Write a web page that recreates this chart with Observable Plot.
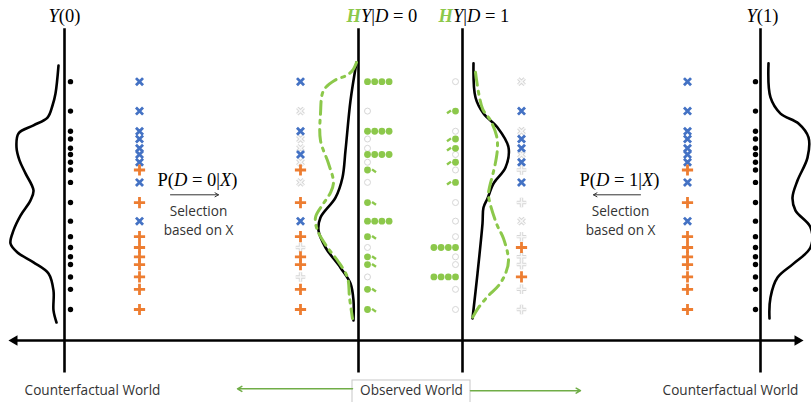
<!DOCTYPE html>
<html><head><meta charset="utf-8">
<script src="https://cdn.jsdelivr.net/npm/d3@7"></script>
<script src="https://cdn.jsdelivr.net/npm/@observablehq/plot@0.6"></script>
<style>body{margin:0;background:#fff} svg{display:block}</style>
</head><body><div id="chart"></div>
<script>
// ---- data: 18 units, outcome level (vertical scale, 0 = horizontal axis)
const unitY = [83.5, 74, 67.5, 65, 62, 60, 57.5, 55, 51, 44.5, 38.5, 33.5, 30, 27, 24.5, 20.5, 16.5, 10];
// covariate type of each unit
const unitX = ["x","x","x","x","x","x","x","+","x","+","x","+","+","+","+","+","+","+"];
// observed treatment of each unit
const unitD = [0,1,0,1,1,0,1,0,1,0,0,0,1,0,0,1,0,0];
// selection probability P(D=0|X)
const propensityD0 = {"x": 0.25, "+": 0.75};

// densities [outcome level, density]
const densY0 = [[88.7,0],[79.7,3],[75.8,6],[71.9,11],[69.4,25],[66.8,40],[62.3,42],[58.1,39],[53.9,33],[48.4,25],[45.2,28],[40.3,38],[35.5,45],[31.3,48],[28.4,41],[25.2,25],[21.6,10],[16.1,5],[9.7,5],[5.8,2]];
const densY1 = [[89.4,0],[78.4,2],[73.2,12],[70,30],[65.5,40],[59,39],[51.6,29],[46.1,24],[41.9,27],[36.5,42],[30,42],[24.8,25],[20.3,9],[13.9,2],[7.1,1]];
const densObs0 = [[89.7,0],[77.4,6],[61.3,11],[52.6,14],[46.1,21],[39.7,36],[35.5,38],[30,31],[23.5,16],[18.4,6],[12.9,3],[6.5,3]];
const densW0 = [[89.7,0],[87.1,4],[85.5,10],[83.9,22],[80.6,33],[73.2,36],[64.5,36],[57.1,28],[51,23],[47.7,26],[44.2,33],[39.7,41],[35.5,39],[30,29],[25.8,19],[20.3,9],[13.9,7],[7.1,4]];
const densObs1 = [[89.4,2],[78.4,4],[73.2,12],[68.7,26],[62.3,37],[55.8,34],[50.6,22],[45.8,16],[42.9,12],[37.7,11],[21.6,6],[7.1,1]];
const densW1 = [[86.5,4],[74.8,11],[71,19],[66.1,25],[62.3,26],[57.4,24],[53.2,21],[49.4,18],[46.8,17],[37.7,25],[32.9,32],[25.8,37],[21.6,34],[17.7,27],[14.5,17],[10.6,7],[7.4,1]];

// texts
const topLabels = ["Y(0)", "HY|D = 0", "HY|D = 1", "Y(1)"];
const selLabels = ["P(D = 0|X)", "P(D = 1|X)"];
const selNote = ["Selection", "based on X"];
const worldLabels = ["Counterfactual World", "Observed World", "Counterfactual World"];

// ---- layout (diagram x positions in px)
const L = {y0:64, d0:358, d1:462, y1:760,
  dotsY0:70, colA:139, colD0:300, gD0:367, gD1:455, colD1:521, colB:687, dotsY1:755,
  baseY0:58, baseD0:356, baseD1:471, baseY1:768, gap:7.2};

const BLUE = "#4472C4", ORANGE = "#ED7D31", GREEN = "#8cc84b", FADE = "#d6d6d6";
const units = unitY.map((y,i) => ({y, x: unitX[i], d: unitD[i]}));

function markerMarks(col, filterFn) {
  const live = units.filter(u => filterFn(u)), dead = units.filter(u => !filterFn(u));
  const sym = u => u.x === "x" ? "times" : "plus";
  const rr = u => u.x === "x" ? 3.3 : 3.7;
  return [
    Plot.dot(dead, {x: () => col, y: "y", symbol: sym, r: rr, stroke: FADE, strokeWidth: 3.4}),
    Plot.dot(dead, {x: () => col, y: "y", symbol: sym, r: rr, stroke: "#f8f8f8", strokeWidth: 1.5}),
    Plot.dot(live.filter(u=>u.x==="x"), {x: () => col, y: "y", symbol: "times", r: 3.3, stroke: BLUE, strokeWidth: 2.8}),
    Plot.dot(live.filter(u=>u.x==="+"), {x: () => col, y: "y", symbol: "plus", r: 3.7, stroke: ORANGE, strokeWidth: 2.8})
  ];
}

function weighted(dval, col, dir) {
  const dots = [], tails = [], empty = [];
  units.forEach(u => {
    if (u.d !== dval) { empty.push({x: col, y: u.y}); return; }
    const p = dval === 0 ? propensityD0[u.x] : 1 - propensityD0[u.x];
    const w = 1 / p, full = Math.floor(w + 1e-9), frac = w - full;
    for (let k = 0; k < full; k++) dots.push({x: col + dir * k * L.gap, y: u.y});
    if (frac > 0.01) tails.push({x1: col + dir * 4.5, x2: col + dir * (4.5 + 12 * frac), y1: u.y + 0.2, y2: u.y - 0.7});
  });
  return [
    Plot.dot(empty, {x: "x", y: "y", r: 3, fill: "white", stroke: FADE, strokeWidth: 1}),
    Plot.dot(dots, {x: "x", y: "y", r: 3.4, fill: GREEN}),
    Plot.link(tails, {x1: "x1", x2: "x2", y1: "y1", y2: "y2", stroke: GREEN, strokeWidth: 2.4})
  ];
}

const dens = (arr, base, dir, opts) => Plot.line(arr, {x: d => base + dir * d[1], y: d => d[0], curve: "catmull-rom", ...opts});
const solid = {stroke: "black", strokeWidth: 2.6};
const dashed = {stroke: GREEN, strokeWidth: 3, strokeDasharray: "13,6,3,6"};

const mathFont = "'Liberation Serif', 'DejaVu Serif', serif";
const sansFont = "'Open Sans', 'Noto Sans', sans-serif";

const chart = Plot.plot({
  width: 811, height: 402, margin: 0,
  x: {domain: [0, 811], axis: null},
  y: {domain: [-20, 109.677], axis: null},
  marks: [
    // horizontal axis with arrowheads
    Plot.ruleY([0], {x1: 14, x2: 797, stroke: "black", strokeWidth: 2.6}),
    Plot.dot([{x: 14, r: -90}, {x: 797, r: 90}], {x: "x", y: () => 0, rotate: "r", symbol: "triangle2", r: 5, fill: "black"}),
    // vertical lines
    Plot.ruleX([L.y0, L.d0, L.d1, L.y1], {y1: 100.6, y2: -10.5, stroke: "black", strokeWidth: 2.6}),
    // densities
    dens(densY0, L.baseY0, -1, solid),
    dens(densY1, L.baseY1, 1, solid),
    dens(densObs0, L.baseD0, -1, solid),
    dens(densW0, L.baseD0, -1, dashed),
    dens(densObs1, L.baseD1, 1, solid),
    dens(densW1, L.baseD1, 1, dashed),
    // potential outcome dots
    Plot.dot(units, {x: () => L.dotsY0, y: "y", r: 2.7, fill: "black"}),
    Plot.dot(units, {x: () => L.dotsY1, y: "y", r: 2.7, fill: "black"}),
    // covariate markers
    ...markerMarks(L.colA, () => true),
    ...markerMarks(L.colD0, u => u.d === 0),
    ...markerMarks(L.colD1, u => u.d === 1),
    ...markerMarks(L.colB, () => true),
    // weighted observed outcomes
    ...weighted(0, L.gD0, 1),
    ...weighted(1, L.gD1, -1),
    // selection arrows
    Plot.arrow([{a: 170, b: 218}, {a: 640, b: 593}], {x1: "a", x2: "b", y1: () => 47, y2: () => 47, stroke: "#333", strokeWidth: 1, headLength: 6}),
    // labels
    Plot.text([topLabels[0], topLabels[3]], {x: (d, i) => [L.y0, L.y1 + 2][i], y: () => 104.5, text: d => d, fontFamily: mathFont, fontSize: 18.5, fill: "black"}),
    Plot.text([topLabels[1], topLabels[2]], {x: (d, i) => [346, 438][i], y: () => 104.5, text: d => d, textAnchor: "start", fontFamily: mathFont, fontSize: 18.5, fill: "black"}),
    Plot.text(selLabels, {x: (d, i) => [197, 619][i], y: () => 51.8, text: d => d, fontFamily: mathFont, fontSize: 18.5, fill: "black"}),
    Plot.text([...selNote, ...selNote], {x: (d, i) => i < 2 ? 198 : 620, y: (d, i) => [41.6, 35.3][i % 2], text: d => d, fontFamily: sansFont, fontWeight: 400, fontSize: 13.6, fill: "#333"}),
    Plot.rect([{}], {x1: () => 352, x2: () => 470, y1: () => -12.9, y2: () => -20.5, fill: "white", stroke: "#c8c8c8", strokeWidth: 1}),
    Plot.arrow([{a: 352, b: 237, y: -15.6}, {a: 470, b: 580, y: -16.2}], {x1: "a", x2: "b", y1: "y", y2: "y", stroke: "#70AD47", strokeWidth: 1.5, headLength: 5}),
    Plot.text(worldLabels, {x: (d, i) => [92, 411, 730][i], y: () => -16.2, text: d => d, fontFamily: sansFont, fontWeight: 400, fontSize: 13.6, fill: "#333"})
  ]
});
document.getElementById("chart").appendChild(chart);

// math-style formatting: italic variables, green bold H
chart.querySelectorAll("text").forEach(t => {
  const s = t.textContent;
  if (![...topLabels, ...selLabels].includes(s)) return;
  t.textContent = "";
  for (const ch of s) {
    const ts = document.createElementNS("http://www.w3.org/2000/svg", "tspan");
    ts.textContent = ch === " " ? "\u2005" : ch;
    if ("YDX".includes(ch)) ts.setAttribute("font-style", "italic");
    if (ch === "H") { ts.setAttribute("font-style", "italic"); ts.setAttribute("font-weight", "bold"); ts.setAttribute("fill", GREEN); }
    t.appendChild(ts);
  }
});
</script></body></html>
